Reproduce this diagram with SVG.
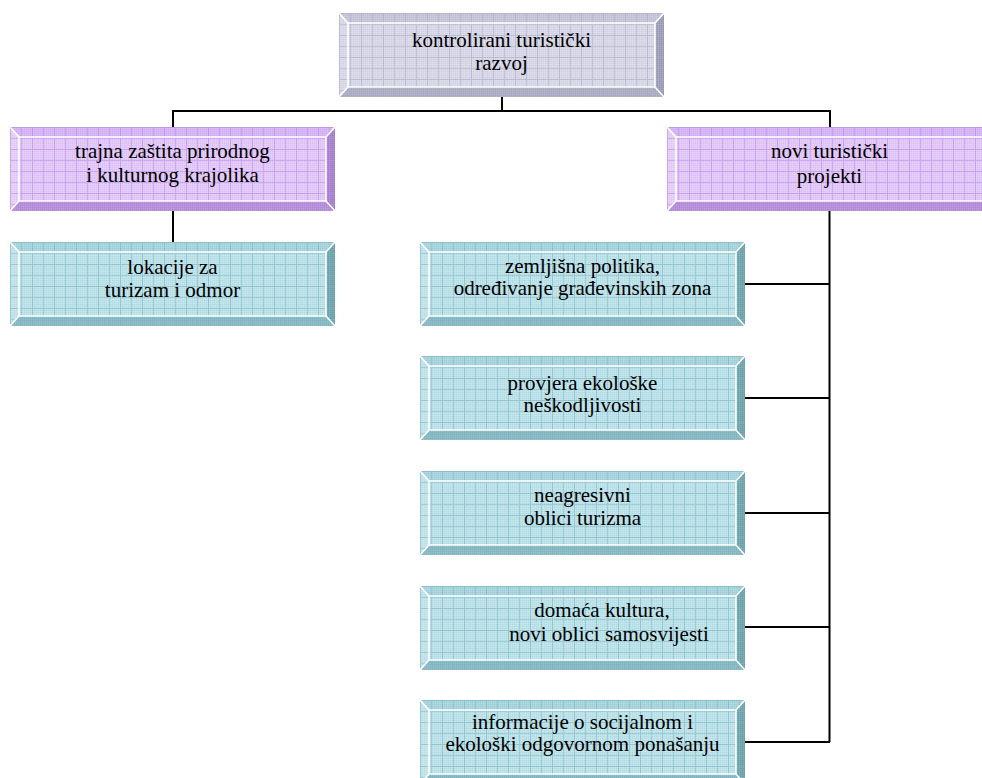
<svg xmlns="http://www.w3.org/2000/svg" width="982" height="778" viewBox="0 0 982 778" font-family="'Liberation Serif', 'DejaVu Serif', serif">
<defs>
<pattern id="gGrey" width="11" height="11" patternUnits="userSpaceOnUse">
<path d="M0 0.5H11M0.5 0V11" stroke="#a9a9c6" stroke-width="1" opacity="0.55"/>
</pattern>
<pattern id="gPurple" width="11" height="11" patternUnits="userSpaceOnUse">
<path d="M0 0.5H11M0.5 0V11" stroke="#b784ec" stroke-width="1" opacity="0.55"/>
</pattern>
<pattern id="gTeal" width="11" height="11" patternUnits="userSpaceOnUse">
<path d="M0 0.5H11M0.5 0V11" stroke="#78b4c2" stroke-width="1" opacity="0.55"/>
</pattern>
<pattern id="dither" width="2" height="2" patternUnits="userSpaceOnUse">
<rect x="0" y="0" width="1" height="1" fill="#000" opacity="0.04"/>
<rect x="1" y="1" width="1" height="1" fill="#fff" opacity="0.12"/>
</pattern>
<style>
.grey .t{fill:#c6c6da}.grey .l{fill:#dadaea}.grey .r{fill:#9e9eb6}.grey .b{fill:#aeaec6}.grey .f{fill:#d8d8e8}.grey .g{fill:url(#gGrey)}
.purple .t{fill:#d6b4f6}.purple .l{fill:#e6d0fb}.purple .r{fill:#a882ce}.purple .b{fill:#b690da}.purple .f{fill:#e2c8fb}.purple .g{fill:url(#gPurple)}
.teal .t{fill:#a8d4de}.teal .l{fill:#c4e4ec}.teal .r{fill:#70a4ae}.teal .b{fill:#88bac4}.teal .f{fill:#bce2ea}.teal .g{fill:url(#gTeal)}
.d{fill:url(#dither)}
.hl{fill:none;stroke:#ffffff;stroke-width:1.6}
text{font-family:"Liberation Serif","DejaVu Serif",serif;font-size:21px;fill:#000;text-anchor:middle}
.conn{stroke:#000;stroke-width:2;fill:none}
</style>
</defs>

<g id="connectors">
<path class="conn" d="M502 97V111"/>
<path class="conn" d="M173 111H830"/>
<path class="conn" d="M173 110V127"/>
<path class="conn" d="M830 110V127"/>
<path class="conn" d="M173 211V242"/>
<path class="conn" stroke-width="2.5" d="M829.5 211V742"/>
<path class="conn" d="M745 284H830"/>
<path class="conn" d="M745 398H830"/>
<path class="conn" d="M745 513H830"/>
<path class="conn" d="M745 627H830"/>
<path class="conn" d="M745 742H830"/>
</g>

<g id="node-kontrolirani" class="grey" transform="translate(339,13)">
<polygon class="t" points="0,0 325,0 316,10 9,10"/>
<polygon class="b" points="0,84 325,84 316,74 9,74"/>
<polygon class="l" points="0,0 9,10 9,74 0,84"/>
<polygon class="r" points="325,0 316,10 316,74 325,84"/>
<rect class="f" x="9" y="10" width="307" height="64"/>
<rect class="g" x="0" y="0" width="325" height="84"/>
<rect class="d" x="0" y="0" width="325" height="84"/>
<path class="hl" d="M9 10H316V74H9Z M0 0L9 10 M325 0L316 10 M0 84L9 74 M325 84L316 74"/>
<text x="162.5" y="34" font-family="'Liberation Serif', serif">kontrolirani turistički</text>
<text x="162.5" y="57" font-family="'Liberation Serif', serif">razvoj</text>
</g>

<g id="node-trajna" class="purple" transform="translate(10,127)">
<polygon class="t" points="0,0 325,0 316,10 9,10"/>
<polygon class="b" points="0,84 325,84 316,74 9,74"/>
<polygon class="l" points="0,0 9,10 9,74 0,84"/>
<polygon class="r" points="325,0 316,10 316,74 325,84"/>
<rect class="f" x="9" y="10" width="307" height="64"/>
<rect class="g" x="0" y="0" width="325" height="84"/>
<rect class="d" x="0" y="0" width="325" height="84"/>
<path class="hl" d="M9 10H316V74H9Z M0 0L9 10 M325 0L316 10 M0 84L9 74 M325 84L316 74"/>
<text x="162.5" y="31" font-family="'Liberation Serif', serif">trajna zaštita prirodnog</text>
<text x="162.5" y="55" font-family="'Liberation Serif', serif">i kulturnog krajolika</text>
</g>

<g id="node-novi" class="purple" transform="translate(667,127)">
<polygon class="t" points="0,0 325,0 316,10 9,10"/>
<polygon class="b" points="0,84 325,84 316,74 9,74"/>
<polygon class="l" points="0,0 9,10 9,74 0,84"/>
<polygon class="r" points="325,0 316,10 316,74 325,84"/>
<rect class="f" x="9" y="10" width="307" height="64"/>
<rect class="g" x="0" y="0" width="325" height="84"/>
<rect class="d" x="0" y="0" width="325" height="84"/>
<path class="hl" d="M9 10H316V74H9Z M0 0L9 10 M325 0L316 10 M0 84L9 74 M325 84L316 74"/>
<text x="162.5" y="31" font-family="'Liberation Serif', serif">novi turistički</text>
<text x="162.5" y="56" font-family="'Liberation Serif', serif">projekti</text>
</g>

<g id="node-lokacije" class="teal" transform="translate(10,242)">
<polygon class="t" points="0,0 325,0 316,10 9,10"/>
<polygon class="b" points="0,84 325,84 316,74 9,74"/>
<polygon class="l" points="0,0 9,10 9,74 0,84"/>
<polygon class="r" points="325,0 316,10 316,74 325,84"/>
<rect class="f" x="9" y="10" width="307" height="64"/>
<rect class="g" x="0" y="0" width="325" height="84"/>
<rect class="d" x="0" y="0" width="325" height="84"/>
<path class="hl" d="M9 10H316V74H9Z M0 0L9 10 M325 0L316 10 M0 84L9 74 M325 84L316 74"/>
<text x="162.5" y="32" font-family="'Liberation Serif', serif">lokacije za</text>
<text x="162.5" y="55" font-family="'Liberation Serif', serif">turizam i odmor</text>
</g>

<g id="node-zemljisna" class="teal" transform="translate(420,242)">
<polygon class="t" points="0,0 325,0 316,10 9,10"/>
<polygon class="b" points="0,84 325,84 316,74 9,74"/>
<polygon class="l" points="0,0 9,10 9,74 0,84"/>
<polygon class="r" points="325,0 316,10 316,74 325,84"/>
<rect class="f" x="9" y="10" width="307" height="64"/>
<rect class="g" x="0" y="0" width="325" height="84"/>
<rect class="d" x="0" y="0" width="325" height="84"/>
<path class="hl" d="M9 10H316V74H9Z M0 0L9 10 M325 0L316 10 M0 84L9 74 M325 84L316 74"/>
<text x="162.5" y="31" font-family="'Liberation Serif', serif">zemljišna politika,</text>
<text x="162.5" y="53" font-family="'Liberation Serif', serif">određivanje građevinskih zona</text>
</g>

<g id="node-provjera" class="teal" transform="translate(420,356)">
<polygon class="t" points="0,0 325,0 316,10 9,10"/>
<polygon class="b" points="0,84 325,84 316,74 9,74"/>
<polygon class="l" points="0,0 9,10 9,74 0,84"/>
<polygon class="r" points="325,0 316,10 316,74 325,84"/>
<rect class="f" x="9" y="10" width="307" height="64"/>
<rect class="g" x="0" y="0" width="325" height="84"/>
<rect class="d" x="0" y="0" width="325" height="84"/>
<path class="hl" d="M9 10H316V74H9Z M0 0L9 10 M325 0L316 10 M0 84L9 74 M325 84L316 74"/>
<text x="162.5" y="34" font-family="'Liberation Serif', serif">provjera ekološke</text>
<text x="162.5" y="56" font-family="'Liberation Serif', serif">neškodljivosti</text>
</g>

<g id="node-neagresivni" class="teal" transform="translate(420,471)">
<polygon class="t" points="0,0 325,0 316,10 9,10"/>
<polygon class="b" points="0,84 325,84 316,74 9,74"/>
<polygon class="l" points="0,0 9,10 9,74 0,84"/>
<polygon class="r" points="325,0 316,10 316,74 325,84"/>
<rect class="f" x="9" y="10" width="307" height="64"/>
<rect class="g" x="0" y="0" width="325" height="84"/>
<rect class="d" x="0" y="0" width="325" height="84"/>
<path class="hl" d="M9 10H316V74H9Z M0 0L9 10 M325 0L316 10 M0 84L9 74 M325 84L316 74"/>
<text x="162.5" y="31" font-family="'Liberation Serif', serif">neagresivni</text>
<text x="162.5" y="54" font-family="'Liberation Serif', serif">oblici turizma</text>
</g>

<g id="node-domaca" class="teal" transform="translate(420,586)">
<polygon class="t" points="0,0 325,0 316,10 9,10"/>
<polygon class="b" points="0,84 325,84 316,74 9,74"/>
<polygon class="l" points="0,0 9,10 9,74 0,84"/>
<polygon class="r" points="325,0 316,10 316,74 325,84"/>
<rect class="f" x="9" y="10" width="307" height="64"/>
<rect class="g" x="0" y="0" width="325" height="84"/>
<rect class="d" x="0" y="0" width="325" height="84"/>
<path class="hl" d="M9 10H316V74H9Z M0 0L9 10 M325 0L316 10 M0 84L9 74 M325 84L316 74"/>
<text x="182" y="31" font-family="'Liberation Serif', serif">domaća kultura,</text>
<text x="189" y="55" font-family="'Liberation Serif', serif">novi oblici samosvijesti</text>
</g>

<g id="node-informacije" class="teal" transform="translate(420,700)">
<polygon class="t" points="0,0 325,0 316,10 9,10"/>
<polygon class="b" points="0,84 325,84 316,74 9,74"/>
<polygon class="l" points="0,0 9,10 9,74 0,84"/>
<polygon class="r" points="325,0 316,10 316,74 325,84"/>
<rect class="f" x="9" y="10" width="307" height="64"/>
<rect class="g" x="0" y="0" width="325" height="84"/>
<rect class="d" x="0" y="0" width="325" height="84"/>
<path class="hl" d="M9 10H316V74H9Z M0 0L9 10 M325 0L316 10 M0 84L9 74 M325 84L316 74"/>
<text x="162.5" y="29" font-family="'Liberation Serif', serif">informacije o socijalnom i</text>
<text x="162.5" y="51" font-family="'Liberation Serif', serif">ekološki odgovornom ponašanju</text>
</g>
</svg>
